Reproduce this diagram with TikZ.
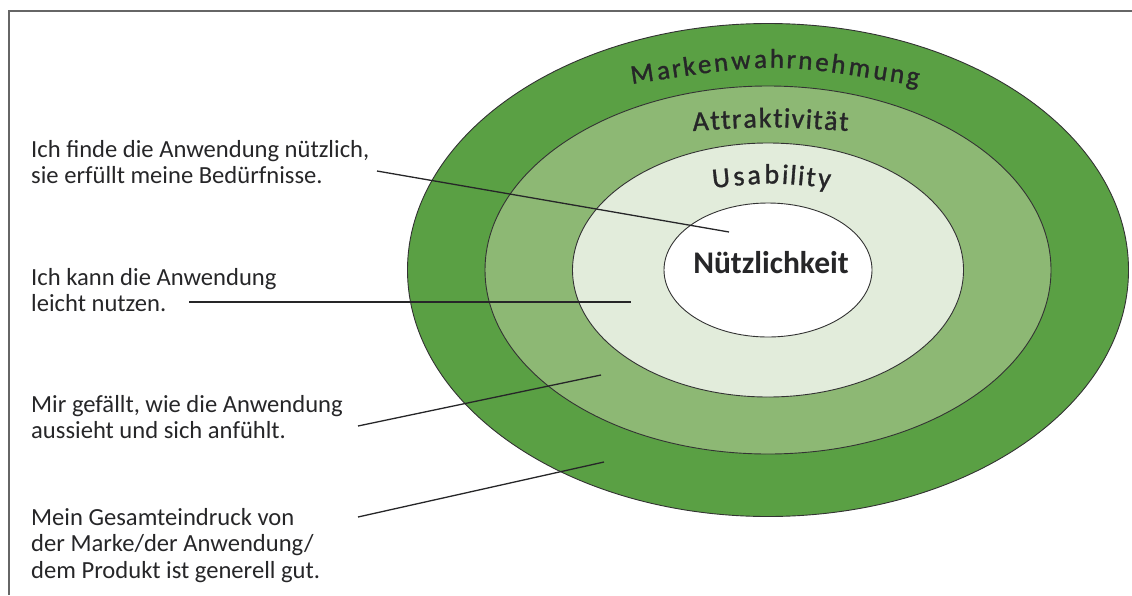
\documentclass[tikz,border=0pt]{standalone}
\usepackage{fontspec}
\setmainfont{Carlito}
\newfontfamily\titlefont[FakeBold=1.2]{Carlito}
\usetikzlibrary{decorations.text}

\definecolor{ringA}{RGB}{90,160,68}
\definecolor{ringB}{RGB}{141,184,116}
\definecolor{ringC}{RGB}{226,236,219}
\definecolor{ink}{RGB}{38,38,40}

\newcommand{\labelfont}{\fontsize{24.6}{26.7}\selectfont}
\newcommand{\lines}[1]{\begin{tabular}[t]{@{}l@{}}#1\end{tabular}}

\begin{document}
\begin{tikzpicture}[x=1pt,y=1pt,
  ring/.style={draw=black!80, line width=0.9pt},
  leader/.style={draw=ink, line width=1.3pt},
  caption/.style={anchor=base west, inner sep=0pt, text=ink, font=\labelfont},
  ringtext/.style 2 args={decorate, decoration={text effects along path, text={#1},
      text effects/.cd, text along path, fit text to path,
      every character/.style={font=\titlefont\fontsize{#2}{32}\selectfont, text=ink}}}]
\useasboundingbox (0,0) rectangle (1132,-595);

% frame
\draw[line width=2pt, draw=black!60] (9,-595) -- (9,-11) -- (1132,-11);

% nested rings
\coordinate (C) at (768,-270);
\draw[ring, fill=ringA] (C) ellipse [x radius=360.5, y radius=246.5];
\draw[ring, fill=ringB] (C) ellipse [x radius=283, y radius=184];
\draw[ring, fill=ringC] (C) ellipse [x radius=195.5, y radius=127];
\draw[ring, fill=white] (C) ellipse [x radius=104, y radius=67];

% ring titles
\path[ringtext={Markenwahrnehmung}{27}] (632,-84) .. controls (775,-62) .. (918,-86);
\path[ringtext={Attraktivität}{28}] (693,-131) .. controls (770,-126) .. (848,-131);
\path[ringtext={Usability}{28}] (713,-188) .. controls (771,-182) .. (830,-188);
\node[anchor=base, inner sep=0pt, text=ink, font=\bfseries\fontsize{31.5}{36}\selectfont]
  (nutz) at (771,-273) {Nützlichkeit};

% statements
\node[caption] (s1) at (31,-157) {\lines{Ich finde die Anwendung nützlich,\\sie erfüllt meine Bedürfnisse.}};
\node[caption] (s2) at (31,-285) {\lines{Ich kann die Anwendung\\leicht nutzen.}};
\node[caption] (s3) at (31,-412) {\lines{Mir gefällt, wie die Anwendung\\aussieht und sich anfühlt.}};
\node[caption] (s4) at (31,-525) {\lines{Mein Gesamteindruck von\\der Marke/der Anwendung/\\dem Produkt ist generell gut.}};

% leader lines
\coordinate (a1) at (377,-171); \coordinate (b1) at (729,-232);
\coordinate (a2) at (189,-302); \coordinate (b2) at (631,-302);
\coordinate (a3) at (358,-426); \coordinate (b3) at (601,-375);
\coordinate (a4) at (358,-517); \coordinate (b4) at (604,-462);
\draw[leader] (a1) -- (b1);
\draw[leader] (a2) -- (b2);
\draw[leader] (a3) -- (b3);
\draw[leader] (a4) -- (b4);
\end{tikzpicture}
\end{document}
